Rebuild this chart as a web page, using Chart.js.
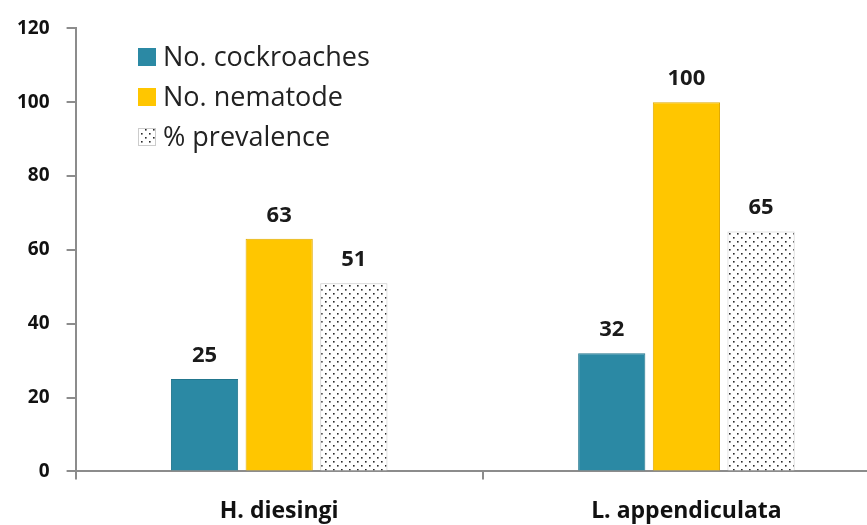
<!DOCTYPE html>
<html>
<head>
<meta charset="utf-8">
<script src="https://cdn.jsdelivr.net/npm/chart.js@4/dist/chart.umd.min.js"></script>
<style>
  html, body { margin: 0; padding: 0; background: #fff; overflow: hidden; }
  #wrap { width: 890px; height: 543px; }
</style>
</head>
<body>
<div id="wrap"><canvas id="grafico"></canvas></div>
<script>
const categorias = ["H. diesingi", "L. appendiculata"];
const cucarachas = [25, 32];
const nematodos = [63, 100];
const prevalencia = [51, 65];
const nombresSeries = ["No. cockroaches", "No. nematode", "% prevalence"];
const ticksY = [0, 20, 40, 60, 80, 100, 120];

const fuente = "'Open Sans', Lato, sans-serif";
const getElemento = (id) => document.getElementById(id);

// trama de puntos para la serie de prevalencia
function crearTrama() {
    const c = document.createElement("canvas");
    c.width = 8; c.height = 8;
    const g = c.getContext("2d");
    g.fillStyle = "#ffffff";
    g.fillRect(0, 0, 8, 8);
    g.fillStyle = "#2a2a2a";
    g.fillRect(1, 1, 1.6, 1.6);
    g.fillRect(5, 5, 1.6, 1.6);
    return g.createPattern(c, "repeat");
}
const trama = crearTrama();

// relieve suave en las barras (bordes mas oscuros)
function relieve(base, borde) {
    return (ctx) => {
        const el = ctx.element;
        if (!el || el.x === undefined || !el.width) return base;
        const c = ctx.chart.ctx;
        const x0 = el.x - el.width / 2, x1 = el.x + el.width / 2;
        const gr = c.createLinearGradient(x0, 0, x1, 0);
        gr.addColorStop(0, borde);
        gr.addColorStop(0.08, base);
        gr.addColorStop(0.92, base);
        gr.addColorStop(1, borde);
        return gr;
    };
}

const etiquetasPlugin = {
    id: "etiquetas",
    afterDatasetsDraw(chart) {
        const ctx = chart.ctx;
        ctx.save();
        ctx.font = "bold 22px " + fuente;
        ctx.fillStyle = "#1a1a1a";
        ctx.textAlign = "center";
        ctx.textBaseline = "alphabetic";
        chart.data.datasets.forEach((ds, i) => {
            chart.getDatasetMeta(i).data.forEach((bar, j) => {
                ctx.fillText(ds.data[j], bar.x, bar.y - 17);
            });
        });
        ctx.restore();
    }
};

const leyendaPlugin = {
    id: "leyenda",
    afterDraw(chart) {
        const ctx = chart.ctx;
        const filas = [57, 97, 137];
        const colores = ["#2b89a4", "#ffc600", trama];
        ctx.save();
        ctx.font = "27px " + fuente;
        ctx.textBaseline = "middle";
        nombresSeries.forEach((n, i) => {
            ctx.fillStyle = colores[i];
            ctx.fillRect(138, filas[i] - 9, 18, 18);
            if (i === 2) { ctx.strokeStyle = "#cccccc"; ctx.lineWidth = 1; ctx.strokeRect(138.5, filas[i] - 8.5, 17, 17); }
            ctx.fillStyle = "#222222";
            ctx.fillText(n, 163, filas[i] + 1);
        });
        ctx.restore();
    }
};

new Chart(getElemento("grafico").getContext("2d"), {
    type: "bar",
    data: {
        labels: categorias,
        datasets: [
            { label: nombresSeries[0], data: cucarachas, backgroundColor: relieve("#2b89a4", "#1d6b80"), borderColor: "#22768d", borderWidth: 1 },
            { label: nombresSeries[1], data: nematodos, backgroundColor: relieve("#ffc600", "#d9a200"), borderColor: "#e0aa00", borderWidth: 1 },
            { label: nombresSeries[2], data: prevalencia, backgroundColor: trama, borderColor: "#c8c8c8", borderWidth: 1 }
        ]
    },
    options: {
        responsive: true,
        maintainAspectRatio: false,
        animation: false,
        layout: { padding: { top: 19, left: 0, right: 0, bottom: 0 } },
        plugins: {
            legend: { display: false },
            tooltip: { enabled: false }
        },
        datasets: { bar: { categoryPercentage: 0.55, barPercentage: 0.9 } },
        scales: {
            x: {
                grid: { display: true, drawOnChartArea: false, offset: true, color: "#8c8c8c", lineWidth: 2, tickLength: 8 },
                border: { color: "#8c8c8c", width: 2 },
                ticks: { color: "#111", font: { family: fuente, size: 23, weight: "bold" }, padding: 18 }
            },
            y: {
                min: 0,
                max: 120,
                afterBuildTicks: (s) => { s.ticks = ticksY.map(v => ({ value: v })); },
                grid: { display: true, drawOnChartArea: false, color: "#8c8c8c", lineWidth: 2, tickLength: 9 },
                border: { color: "#8c8c8c", width: 2 },
                ticks: { color: "#111", font: { family: fuente, size: 19, weight: "bold" }, padding: 17 }
            }
        }
    },
    plugins: [etiquetasPlugin, leyendaPlugin]
});
</script>
</body>
</html>
